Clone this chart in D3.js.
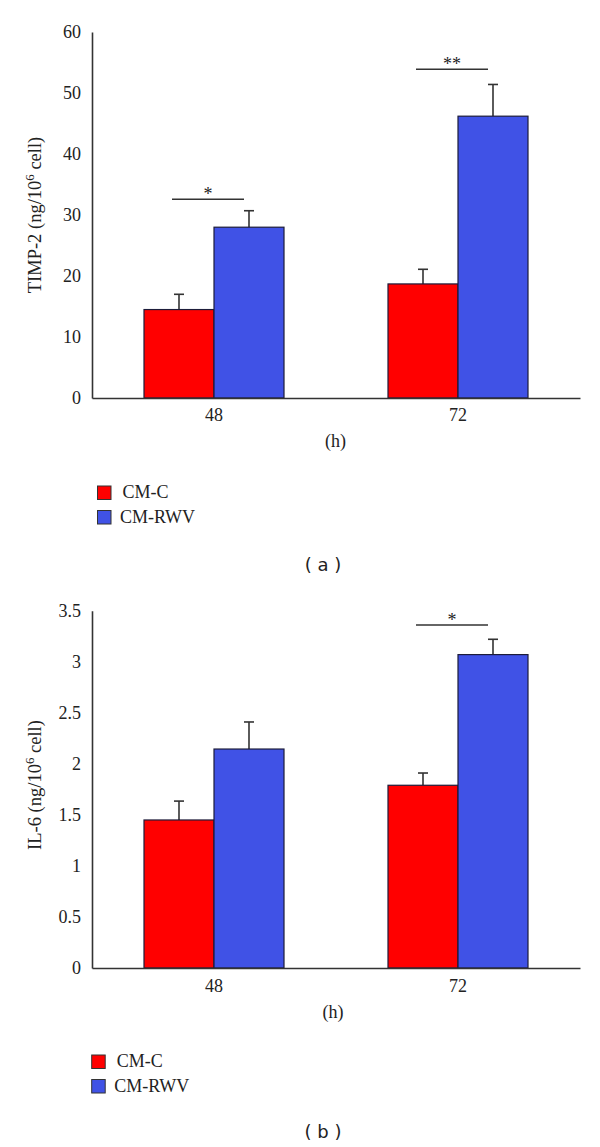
<!DOCTYPE html>
<html>
<head>
<meta charset="utf-8">
<script src="https://cdn.jsdelivr.net/npm/d3@7/dist/d3.min.js"></script>
<style>
  html, body { margin: 0; padding: 0; background: #ffffff; }
  svg { display: block; }
  text { font-family: "Liberation Serif", "Times New Roman", serif; fill: #222; }
</style>
</head>
<body>
<svg id="chart" width="600" height="1147"></svg>
<script>
// ---------- data ----------
const categories = ["48", "72"];
const seriesNames = ["CM-C", "CM-RWV"];
const seriesColors = ["#ff0000", "#4052e6"];

// Panel (a): TIMP-2
const timpMeanC   = [14.5, 18.7];
const timpMeanRWV = [28.0, 46.2];
const timpErrC    = [2.5, 2.4];
const timpErrRWV  = [2.7, 5.2];
const timpTicks   = [0, 10, 20, 30, 40, 50, 60];
const timpSig     = [{cat: "48", y: 32.6, label: "*"}, {cat: "72", y: 53.9, label: "**"}];

// Panel (b): IL-6
const il6MeanC   = [1.45, 1.79];
const il6MeanRWV = [2.145, 3.07];
const il6ErrC    = [0.185, 0.12];
const il6ErrRWV  = [0.265, 0.15];
const il6Ticks   = [0, 0.5, 1, 1.5, 2, 2.5, 3, 3.5];
const il6TickLabels = ["0", "0.5", "1", "1.5", "2", "2.5", "3", "3.5"];
const il6Sig     = [{cat: "72", y: 3.36, label: "*"}];

const svg = d3.select("#chart");
const SERIF = "'Liberation Serif', 'Times New Roman', serif";

function drawPanel(cfg) {
  const g = svg.append("g");
  const x0 = d3.scaleBand().domain(categories).range([cfg.left, cfg.right]).padding(0);
  const x1 = d3.scaleBand().domain(seriesNames).range([0, 140]).padding(0);
  const y = d3.scaleLinear().domain([0, cfg.max]).range([cfg.bottom, cfg.top]);

  const rows = [];
  categories.forEach((c, i) => {
    rows.push({cat: c, s: seriesNames[0], v: cfg.meanC[i], e: cfg.errC[i], color: seriesColors[0]});
    rows.push({cat: c, s: seriesNames[1], v: cfg.meanR[i], e: cfg.errR[i], color: seriesColors[1]});
  });
  const gx = c => x0(c) + x0.bandwidth() / 2 - 70;

  // error bars (upward only)
  rows.forEach(d => {
    const cx = gx(d.cat) + x1(d.s) + x1.bandwidth() / 2;
    g.append("line").attr("x1", cx).attr("x2", cx)
      .attr("y1", y(d.v)).attr("y2", y(d.v + d.e))
      .attr("stroke", "#333").attr("stroke-width", 1.6);
    g.append("line").attr("x1", cx - 5).attr("x2", cx + 5)
      .attr("y1", y(d.v + d.e)).attr("y2", y(d.v + d.e))
      .attr("stroke", "#333").attr("stroke-width", 1.6);
  });

  // bars
  g.selectAll("rect.bar").data(rows).enter().append("rect")
    .attr("class", "bar")
    .attr("x", d => gx(d.cat) + x1(d.s))
    .attr("width", x1.bandwidth())
    .attr("y", d => y(d.v))
    .attr("height", d => y(0) - y(d.v))
    .attr("fill", d => d.color)
    .attr("stroke", "#1c1c3a").attr("stroke-width", 1.2);

  // y axis
  const yAxis = d3.axisLeft(y).tickValues(cfg.ticks).tickSize(0).tickPadding(11)
    .tickFormat((d, i) => cfg.tickLabels ? cfg.tickLabels[i] : d);
  const ya = g.append("g").attr("transform", `translate(${cfg.left},0)`).call(yAxis)
    .attr("font-family", SERIF).attr("font-size", 18);
  ya.select(".domain").attr("stroke", "#333").attr("stroke-width", 1.6);
  ya.selectAll("text").style("font-family", SERIF).style("font-size", "18px").attr("fill", "#222");

  // x axis
  const xAxis = d3.axisBottom(x0).tickSize(0).tickPadding(cfg.xPad);
  const xa = g.append("g").attr("transform", `translate(0,${cfg.bottom})`).call(xAxis)
    .attr("font-family", SERIF).attr("font-size", 18);
  xa.select(".domain").attr("stroke", "#333").attr("stroke-width", 1.6);
  xa.selectAll("text").style("font-family", SERIF).style("font-size", "18px").attr("fill", "#222");

  // significance
  cfg.sig.forEach(s => {
    const c = x0(s.cat) + x0.bandwidth() / 2;
    g.append("line").attr("x1", c - 42).attr("x2", c + 30)
      .attr("y1", y(s.y)).attr("y2", y(s.y))
      .attr("stroke", "#333").attr("stroke-width", 1.5);
    g.append("text").attr("x", c - 6).attr("y", y(s.y) + 1)
      .attr("text-anchor", "middle").style("font-size", "18px").text(s.label);
  });

  // y label
  const yl = g.append("text")
    .attr("transform", `translate(41,${cfg.yLabelY}) rotate(-90)`)
    .attr("text-anchor", "middle").style("font-size", "18.5px");
  yl.append("tspan").text(cfg.yLabel + " (ng/10");
  yl.append("tspan").attr("dy", -7).style("font-size", "13px").text("6");
  yl.append("tspan").attr("dy", 7).text(" cell)");

  // x label
  g.append("text").attr("x", cfg.hX).attr("y", cfg.hY)
    .attr("text-anchor", "middle").style("font-size", "18px").text("(h)");

  // legend
  seriesNames.forEach((n, i) => {
    g.append("rect").attr("x", cfg.legX).attr("y", cfg.legY + i * 24.5)
      .attr("width", 13.5).attr("height", 13.5)
      .attr("fill", seriesColors[i]).attr("stroke", "#333").attr("stroke-width", 1);
    g.append("text").attr("x", cfg.legX + (i === 0 ? 25 : 22.5)).attr("y", cfg.legY + 12 + i * 24.5)
      .style("font-size", "18px").text(n);
  });

  // panel label
  g.append("text").attr("x", 323).attr("y", cfg.panelY)
    .attr("text-anchor", "middle")
    .style("font-family", "'DejaVu Sans', sans-serif").style("font-size", "18px")
    .text(cfg.panel);
}

drawPanel({
  left: 92, right: 580, top: 32, bottom: 398, max: 60,
  meanC: timpMeanC, meanR: timpMeanRWV, errC: timpErrC, errR: timpErrRWV,
  ticks: timpTicks, sig: timpSig, yLabel: "TIMP-2", yLabelY: 215, xPad: 10,
  hX: 335.5, hY: 447, legX: 97.5, legY: 486, panel: "( a )", panelY: 571
});

drawPanel({
  left: 92, right: 580, top: 610.7, bottom: 968, max: 3.5,
  meanC: il6MeanC, meanR: il6MeanRWV, errC: il6ErrC, errR: il6ErrRWV,
  ticks: il6Ticks, tickLabels: il6TickLabels, sig: il6Sig, yLabel: "IL-6", yLabelY: 785, xPad: 11,
  hX: 333, hY: 1018, legX: 91.7, legY: 1055, panel: "( b )", panelY: 1138
});
</script>
</body>
</html>
